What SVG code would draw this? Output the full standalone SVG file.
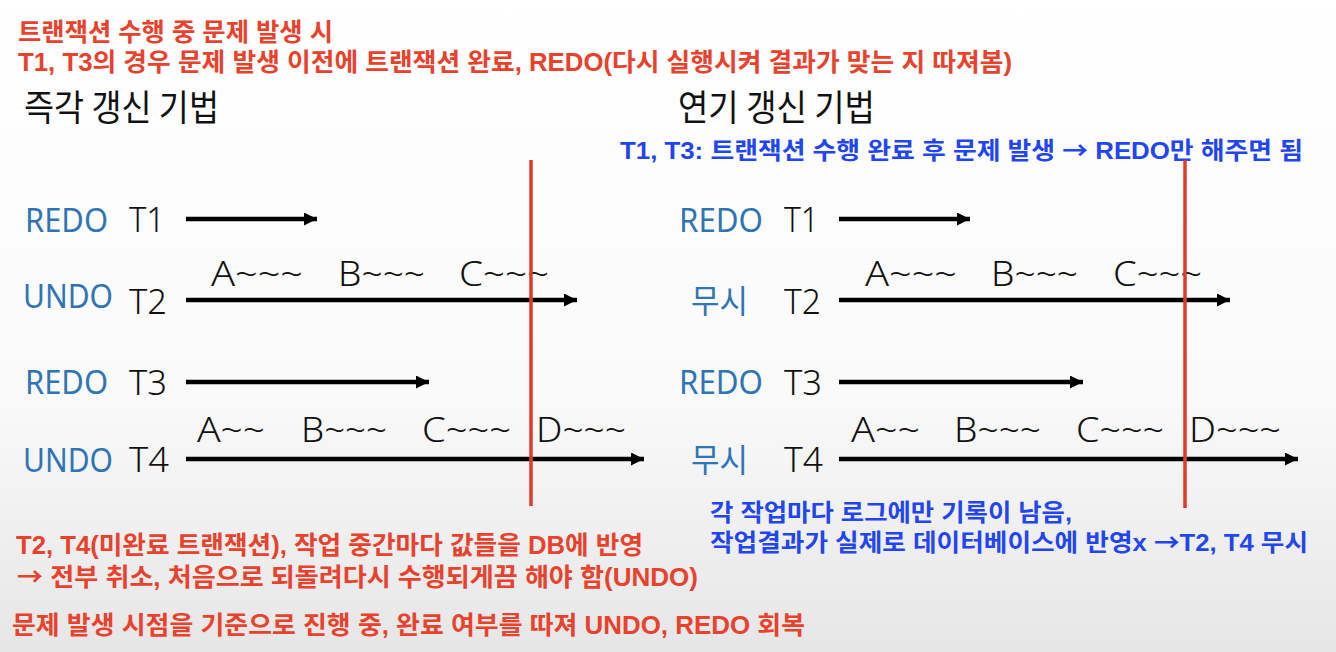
<svg xmlns="http://www.w3.org/2000/svg" width="1336" height="652" viewBox="0 0 1336 652">
<defs>
<linearGradient id="bg" x1="0" y1="0" x2="0" y2="1">
<stop offset="0" stop-color="#ffffff"/>
<stop offset="0.6" stop-color="#fafafa"/>
<stop offset="1" stop-color="#e6e6e6"/>
</linearGradient>
<marker id="ah" viewBox="0 0 12 12" refX="12" refY="6" markerWidth="13" markerHeight="13" markerUnits="userSpaceOnUse" orient="auto">
<path d="M0,0 L12,6 L0,12 Z" fill="#000"/>
</marker>
<style>
.red{font-family:"Liberation Sans","Noto Sans CJK KR",sans-serif;font-weight:bold;fill:#e8412c;font-size:25px}
.blue{font-family:"Liberation Sans","Noto Sans CJK KR",sans-serif;font-weight:bold;fill:#1f46f0;font-size:24px}
.ar{font-family:"Noto Sans CJK KR",sans-serif}
.head{font-family:"Noto Sans CJK KR",sans-serif;fill:#111;font-size:36px}
.lbl{font-family:"Noto Sans","Noto Sans CJK KR",sans-serif;fill:#2f75b5;font-size:33px}
.t{font-family:"Noto Sans",sans-serif;fill:#111;font-size:35px;font-weight:300}
.op{font-family:"Noto Sans",sans-serif;fill:#111;font-size:35px;font-weight:300}
.arr{stroke:#000;stroke-width:4.5;fill:none;marker-end:url(#ah)}
.cut{stroke:#e03a2a;stroke-width:3.5}
</style>
</defs>
<rect width="1336" height="652" fill="url(#bg)"/>

<g id="title">
<text class="red" x="18" y="41" textLength="315" lengthAdjust="spacingAndGlyphs">트랜잭션 수행 중 문제 발생 시</text>
<text class="red" x="18" y="71" textLength="994" lengthAdjust="spacingAndGlyphs">T1, T3의 경우 문제 발생 이전에 트랜잭션 완료, REDO(다시 실행시켜 결과가 맞는 지 따져봄)</text>
</g>

<g id="heading-left"><text class="head" x="24" y="121" textLength="195" lengthAdjust="spacingAndGlyphs">즉각 갱신 기법</text></g>
<g id="heading-right"><text class="head" x="678" y="121" textLength="197" lengthAdjust="spacingAndGlyphs">연기 갱신 기법</text></g>
<g id="note-right-top"><text class="blue" x="620" y="159" textLength="683" lengthAdjust="spacingAndGlyphs">T1, T3: 트랜잭션 수행 완료 후 문제 발생 <tspan class="ar">→</tspan> REDO만 해주면 됨</text></g>

<g id="connectors">
<line class="arr" x1="186" y1="219" x2="317" y2="219"/>
<line class="arr" x1="186" y1="300" x2="577" y2="300"/>
<line class="arr" x1="186" y1="382" x2="429" y2="382"/>
<line class="arr" x1="186" y1="459" x2="644" y2="459"/>
<line class="arr" x1="839" y1="219" x2="970" y2="219"/>
<line class="arr" x1="839" y1="300" x2="1230" y2="300"/>
<line class="arr" x1="839" y1="382" x2="1083" y2="382"/>
<line class="arr" x1="839" y1="459" x2="1298" y2="459"/>
</g>

<g id="left-T1">
<text class="lbl" x="25" y="232" textLength="83" lengthAdjust="spacingAndGlyphs">REDO</text>
<text class="t" x="129" y="232" textLength="36" lengthAdjust="spacingAndGlyphs">T1</text>
</g>
<g id="left-T2">
<text class="lbl" x="23" y="308" textLength="90" lengthAdjust="spacingAndGlyphs">UNDO</text>
<text class="t" x="129" y="314" textLength="38" lengthAdjust="spacingAndGlyphs">T2</text>
<text class="op" x="211" y="286" textLength="92" lengthAdjust="spacingAndGlyphs">A~~~</text>
<text class="op" x="338" y="286" textLength="87" lengthAdjust="spacingAndGlyphs">B~~~</text>
<text class="op" x="459" y="286" textLength="90" lengthAdjust="spacingAndGlyphs">C~~~</text>
</g>
<g id="left-T3">
<text class="lbl" x="25" y="394" textLength="83" lengthAdjust="spacingAndGlyphs">REDO</text>
<text class="t" x="129" y="395" textLength="38" lengthAdjust="spacingAndGlyphs">T3</text>
</g>
<g id="left-T4">
<text class="lbl" x="23" y="472" textLength="90" lengthAdjust="spacingAndGlyphs">UNDO</text>
<text class="t" x="129" y="472" textLength="40" lengthAdjust="spacingAndGlyphs">T4</text>
<text class="op" x="197" y="442" textLength="68" lengthAdjust="spacingAndGlyphs">A~~</text>
<text class="op" x="301" y="442" textLength="86" lengthAdjust="spacingAndGlyphs">B~~~</text>
<text class="op" x="422" y="442" textLength="89" lengthAdjust="spacingAndGlyphs">C~~~</text>
<text class="op" x="536" y="442" textLength="90" lengthAdjust="spacingAndGlyphs">D~~~</text>
</g>

<g id="right-T1">
<text class="lbl" x="679" y="232" textLength="84" lengthAdjust="spacingAndGlyphs">REDO</text>
<text class="t" x="784" y="232" textLength="35" lengthAdjust="spacingAndGlyphs">T1</text>
</g>
<g id="right-T2">
<text class="lbl" x="691" y="313" textLength="57" lengthAdjust="spacingAndGlyphs">무시</text>
<text class="t" x="784" y="314" textLength="37" lengthAdjust="spacingAndGlyphs">T2</text>
<text class="op" x="865" y="286" textLength="92" lengthAdjust="spacingAndGlyphs">A~~~</text>
<text class="op" x="991" y="286" textLength="87" lengthAdjust="spacingAndGlyphs">B~~~</text>
<text class="op" x="1113" y="286" textLength="89" lengthAdjust="spacingAndGlyphs">C~~~</text>
</g>
<g id="right-T3">
<text class="lbl" x="679" y="394" textLength="84" lengthAdjust="spacingAndGlyphs">REDO</text>
<text class="t" x="784" y="395" textLength="38" lengthAdjust="spacingAndGlyphs">T3</text>
</g>
<g id="right-T4">
<text class="lbl" x="691" y="472" textLength="57" lengthAdjust="spacingAndGlyphs">무시</text>
<text class="t" x="784" y="472" textLength="39" lengthAdjust="spacingAndGlyphs">T4</text>
<text class="op" x="851" y="442" textLength="69" lengthAdjust="spacingAndGlyphs">A~~</text>
<text class="op" x="954" y="442" textLength="87" lengthAdjust="spacingAndGlyphs">B~~~</text>
<text class="op" x="1076" y="442" textLength="88" lengthAdjust="spacingAndGlyphs">C~~~</text>
<text class="op" x="1189" y="442" textLength="92" lengthAdjust="spacingAndGlyphs">D~~~</text>
</g>

<g id="failure-lines">
<line class="cut" x1="531" y1="160" x2="531" y2="506"/>
<line class="cut" x1="1185" y1="160" x2="1185" y2="508"/>
</g>

<g id="note-left-bottom">
<text class="red" x="16" y="554" textLength="627" lengthAdjust="spacingAndGlyphs">T2, T4(미완료 트랜잭션), 작업 중간마다 값들을 DB에 반영</text>
<text class="red" x="17" y="586" textLength="681" lengthAdjust="spacingAndGlyphs"><tspan class="ar">→</tspan> 전부 취소, 처음으로 되돌려다시 수행되게끔 해야 함(UNDO)</text>
</g>
<g id="note-right-bottom">
<text class="blue" x="710" y="521" textLength="362" lengthAdjust="spacingAndGlyphs">각 작업마다 로그에만 기록이 남음,</text>
<text class="blue" x="710" y="551" textLength="598" lengthAdjust="spacingAndGlyphs">작업결과가 실제로 데이터베이스에 반영x <tspan class="ar">→</tspan>T2, T4 무시</text>
</g>
<g id="summary">
<text class="red" x="12" y="634" textLength="793" lengthAdjust="spacingAndGlyphs">문제 발생 시점을 기준으로 진행 중, 완료 여부를 따져 UNDO, REDO 회복</text>
</g>
</svg>
